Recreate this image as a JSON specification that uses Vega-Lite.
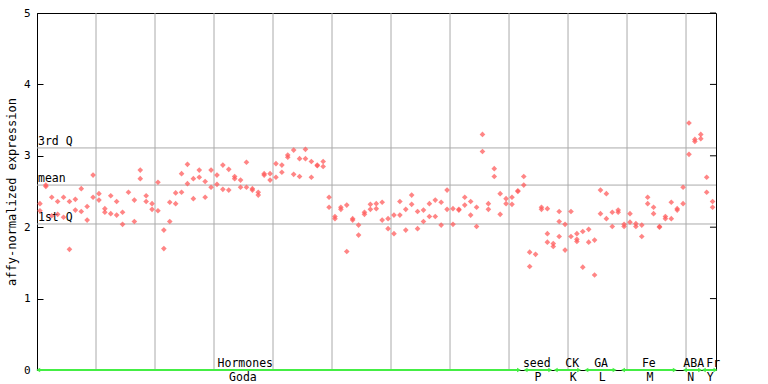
{
  "$schema": "https://vega.github.io/schema/vega-lite/v6.json",
  "width": 679,
  "height": 357,
  "autosize": {"type": "none"},
  "padding": {"left": 37, "top": 13, "right": 52, "bottom": 14},
  "background": "white",
  "config": {
    "view": {"stroke": "black", "strokeWidth": 1},
    "font": "DejaVu Sans Mono",
    "axis": {
      "labelFont": "DejaVu Sans Mono",
      "titleFont": "DejaVu Sans Mono",
      "labelColor": "black",
      "titleColor": "black",
      "domainColor": "black",
      "tickColor": "black",
      "titleFontWeight": "normal",
      "labelFontSize": 11,
      "titleFontSize": 12
    }
  },
  "datasets": {
    "pts": [
      {"i":0,"v":2.33},{"i":0,"v":2.23},
      {"i":1,"v":2.59},{"i":1,"v":2.57},
      {"i":2,"v":2.42},{"i":2,"v":2.16},
      {"i":3,"v":2.36},{"i":3,"v":2.18},
      {"i":4,"v":2.42},{"i":4,"v":2.14},
      {"i":5,"v":2.36},{"i":5,"v":1.69},
      {"i":6,"v":2.39},{"i":6,"v":2.24},
      {"i":7,"v":2.54},{"i":7,"v":2.22},
      {"i":8,"v":2.29},{"i":8,"v":2.10},
      {"i":9,"v":2.73},{"i":9,"v":2.42},
      {"i":10,"v":2.47},{"i":10,"v":2.38},
      {"i":11,"v":2.26},{"i":11,"v":2.21},
      {"i":12,"v":2.44},{"i":12,"v":2.19},
      {"i":13,"v":2.36},{"i":13,"v":2.17},
      {"i":14,"v":2.21},{"i":14,"v":2.04},
      {"i":15,"v":2.49},
      {"i":16,"v":2.38},{"i":16,"v":2.08},
      {"i":17,"v":2.80},{"i":17,"v":2.68},
      {"i":18,"v":2.44},{"i":18,"v":2.36},
      {"i":19,"v":2.33},{"i":19,"v":2.25},
      {"i":20,"v":2.63},{"i":20,"v":2.23},
      {"i":21,"v":1.96},{"i":21,"v":1.70},
      {"i":22,"v":2.35},{"i":22,"v":2.08},
      {"i":23,"v":2.48},{"i":23,"v":2.33},
      {"i":24,"v":2.75},{"i":24,"v":2.49},
      {"i":25,"v":2.88},{"i":25,"v":2.61},
      {"i":26,"v":2.68},{"i":26,"v":2.40},
      {"i":27,"v":2.80},{"i":27,"v":2.70},
      {"i":28,"v":2.64},{"i":28,"v":2.42},
      {"i":29,"v":2.80},{"i":29,"v":2.56},
      {"i":30,"v":2.73},{"i":30,"v":2.60},
      {"i":31,"v":2.87},{"i":31,"v":2.53},
      {"i":32,"v":2.81},{"i":32,"v":2.52},
      {"i":33,"v":2.71},{"i":33,"v":2.68},
      {"i":34,"v":2.66},{"i":34,"v":2.56},
      {"i":35,"v":2.91},{"i":35,"v":2.56},
      {"i":36,"v":2.54},{"i":36,"v":2.52},
      {"i":37,"v":2.49},{"i":37,"v":2.45},
      {"i":38,"v":2.75},{"i":38,"v":2.73},
      {"i":39,"v":2.75},{"i":39,"v":2.66},
      {"i":40,"v":2.89},{"i":40,"v":2.70},
      {"i":41,"v":2.87},{"i":41,"v":2.77},
      {"i":42,"v":3.01},{"i":42,"v":2.98},
      {"i":43,"v":3.08},{"i":43,"v":2.74},
      {"i":44,"v":2.96},{"i":44,"v":2.71},
      {"i":45,"v":3.09},{"i":45,"v":2.96},
      {"i":46,"v":2.92},{"i":46,"v":2.70},
      {"i":47,"v":2.87},{"i":47,"v":2.86},
      {"i":48,"v":2.92},{"i":48,"v":2.85},
      {"i":49,"v":2.42},{"i":49,"v":2.28},
      {"i":50,"v":2.15},{"i":50,"v":2.12},
      {"i":51,"v":2.28},{"i":51,"v":2.25},
      {"i":52,"v":2.31},{"i":52,"v":1.66},
      {"i":53,"v":2.12},{"i":53,"v":2.10},
      {"i":54,"v":2.03},{"i":54,"v":1.89},
      {"i":55,"v":2.21},{"i":55,"v":2.18},
      {"i":56,"v":2.32},{"i":56,"v":2.25},
      {"i":57,"v":2.33},{"i":57,"v":2.26},
      {"i":58,"v":2.35},{"i":58,"v":2.10},
      {"i":59,"v":2.12},{"i":59,"v":1.98},
      {"i":60,"v":2.17},{"i":60,"v":1.91},
      {"i":61,"v":2.36},{"i":61,"v":2.17},
      {"i":62,"v":2.25},{"i":62,"v":1.96},
      {"i":63,"v":2.45},{"i":63,"v":2.32},
      {"i":64,"v":2.22},{"i":64,"v":1.98},
      {"i":65,"v":2.24},{"i":65,"v":2.08},
      {"i":66,"v":2.33},{"i":66,"v":2.15},
      {"i":67,"v":2.38},{"i":67,"v":2.15},
      {"i":68,"v":2.35},{"i":68,"v":2.03},
      {"i":69,"v":2.52},{"i":69,"v":2.25},
      {"i":70,"v":2.26},{"i":70,"v":2.04},
      {"i":71,"v":2.25},{"i":71,"v":2.24},
      {"i":72,"v":2.42},{"i":72,"v":2.31},
      {"i":73,"v":2.36},{"i":73,"v":2.17},
      {"i":74,"v":2.28},{"i":74,"v":2.01},
      {"i":75,"v":3.30},{"i":75,"v":3.06},
      {"i":76,"v":2.33},{"i":76,"v":2.25},
      {"i":77,"v":2.82},{"i":77,"v":2.71},
      {"i":78,"v":2.47},{"i":78,"v":2.18},
      {"i":79,"v":2.40},{"i":79,"v":2.33},
      {"i":80,"v":2.42},{"i":80,"v":2.32},
      {"i":81,"v":2.51},{"i":81,"v":2.50},
      {"i":82,"v":2.71},{"i":82,"v":2.59},
      {"i":83,"v":1.65},{"i":83,"v":1.45},
      {"i":84,"v":1.62},
      {"i":85,"v":2.28},{"i":85,"v":2.25},
      {"i":86,"v":2.26},{"i":86,"v":1.91},{"i":86,"v":1.79},
      {"i":87,"v":1.77},{"i":87,"v":1.73},
      {"i":88,"v":2.22},{"i":88,"v":2.08},{"i":88,"v":1.87},
      {"i":89,"v":2.04},{"i":89,"v":1.68},
      {"i":90,"v":2.22},{"i":90,"v":1.87},
      {"i":91,"v":1.91},{"i":91,"v":1.83},{"i":91,"v":1.80},
      {"i":92,"v":1.94},{"i":92,"v":1.44},
      {"i":93,"v":1.97},{"i":93,"v":1.79},
      {"i":94,"v":1.82},{"i":94,"v":1.33},
      {"i":95,"v":2.52},{"i":95,"v":2.19},
      {"i":96,"v":2.47},{"i":96,"v":2.12},
      {"i":97,"v":2.21},{"i":97,"v":2.01},
      {"i":98,"v":2.24},{"i":98,"v":2.21},
      {"i":99,"v":2.04},{"i":99,"v":2.01},
      {"i":100,"v":2.19},{"i":100,"v":2.07},
      {"i":101,"v":2.05},{"i":101,"v":2.01},
      {"i":102,"v":2.03},{"i":102,"v":1.87},
      {"i":103,"v":2.42},{"i":103,"v":2.33},
      {"i":104,"v":2.28},{"i":104,"v":2.19},
      {"i":105,"v":2.01},{"i":105,"v":2.00},
      {"i":106,"v":2.15},{"i":106,"v":2.12},
      {"i":107,"v":2.35},{"i":107,"v":2.12},
      {"i":108,"v":2.26},{"i":108,"v":2.24},
      {"i":109,"v":2.56},{"i":109,"v":2.33},
      {"i":110,"v":3.46},{"i":110,"v":3.02},
      {"i":111,"v":3.23},{"i":111,"v":3.20},
      {"i":112,"v":3.30},{"i":112,"v":3.24},
      {"i":113,"v":2.70},{"i":113,"v":2.49},
      {"i":114,"v":2.36},{"i":114,"v":2.28}
    ],
    "refs": [
      {"v": 3.11, "label": "3rd Q"},
      {"v": 2.59, "label": "mean"},
      {"v": 2.045, "label": "1st Q"}
    ],
    "yticks": [{"v": 0}, {"v": 1}, {"v": 2}, {"v": 3}, {"v": 4}, {"v": 5}],
    "grid": [
      {"i": 9.5}, {"i": 19.5}, {"i": 29.5}, {"i": 39.5}, {"i": 49.5}, {"i": 59.5},
      {"i": 69.5}, {"i": 79.5}, {"i": 89.5}, {"i": 99.5}, {"i": 109.5}
    ],
    "segs": [
      {"a": -0.3, "b": 81.2},
      {"a": 82.3, "b": 86.5},
      {"a": 87.4, "b": 91.4},
      {"a": 92.6, "b": 97.4},
      {"a": 98.8, "b": 107.6},
      {"a": 109.3, "b": 111.9},
      {"a": 112.5, "b": 114.5}
    ],
    "above": [
      {"i": 34.8, "t": "Hormones"},
      {"i": 84.2, "t": "seed"},
      {"i": 90.2, "t": "CK"},
      {"i": 95.1, "t": "GA"},
      {"i": 103.2, "t": "Fe"},
      {"i": 110.8, "t": "ABA"},
      {"i": 114.1, "t": "Fr"}
    ],
    "below": [
      {"i": 34.4, "t": "Goda"},
      {"i": 84.4, "t": "P"},
      {"i": 90.4, "t": "K"},
      {"i": 95.3, "t": "L"},
      {"i": 103.4, "t": "M"},
      {"i": 110.3, "t": "N"},
      {"i": 113.6, "t": "Y"}
    ]
  },
  "encoding": {
    "x": {"type": "quantitative", "scale": {"domain": [-0.5, 114.58], "nice": false, "zero": false}, "axis": null},
    "y": {"type": "quantitative", "scale": {"domain": [0, 5], "nice": false, "zero": true},
      "axis": {"orient": "left", "values": [0, 1, 2, 3, 4, 5], "grid": false, "tickSize": -6, "labelPadding": 13, "title": "affy-normalized expression", "titlePadding": 5}}
  },
  "layer": [
    {
      "data": {"name": "grid"},
      "mark": {"type": "rule", "color": "#aaaaaa", "strokeWidth": 1},
      "encoding": {
        "x": {"field": "i", "type": "quantitative"}
      }
    },
    {
      "data": {"name": "refs"},
      "mark": {"type": "rule", "color": "#aaaaaa", "strokeWidth": 1},
      "encoding": {
        "y": {"field": "v", "type": "quantitative"}
      }
    },
    {
      "data": {"name": "refs"},
      "mark": {"type": "text", "align": "left", "baseline": "bottom", "dx": 1, "dy": -1, "fontSize": 11.5, "font": "DejaVu Sans Mono", "color": "black"},
      "encoding": {
        "x": {"datum": -0.5, "type": "quantitative"},
        "y": {"field": "v", "type": "quantitative"},
        "text": {"field": "label"}
      }
    },
    {
      "data": {"name": "pts"},
      "mark": {"type": "point", "shape": "diamond", "filled": true, "size": 32, "color": "#ff5c5c", "opacity": 0.75},
      "encoding": {
        "x": {"field": "i", "type": "quantitative"},
        "y": {"field": "v", "type": "quantitative"}
      }
    },
    {
      "data": {"name": "yticks"},
      "mark": {"type": "rule", "color": "black", "strokeWidth": 1},
      "encoding": {
        "x": {"datum": 113.56, "type": "quantitative"},
        "x2": {"datum": 114.58},
        "y": {"field": "v", "type": "quantitative"}
      }
    },
    {
      "data": {"name": "segs"},
      "mark": {"type": "rule", "color": "#44ee44", "strokeWidth": 2},
      "encoding": {
        "x": {"field": "a", "type": "quantitative"},
        "x2": {"field": "b"},
        "y": {"datum": 0, "type": "quantitative"}
      }
    },
    {
      "data": {"name": "segs"},
      "mark": {"type": "point", "shape": "triangle-left", "filled": true, "size": 22, "color": "#44ee44", "opacity": 1},
      "encoding": {
        "x": {"field": "a", "type": "quantitative"},
        "y": {"datum": 0, "type": "quantitative"}
      }
    },
    {
      "data": {"name": "segs"},
      "mark": {"type": "point", "shape": "triangle-right", "filled": true, "size": 22, "color": "#44ee44", "opacity": 1},
      "encoding": {
        "x": {"field": "b", "type": "quantitative"},
        "y": {"datum": 0, "type": "quantitative"}
      }
    },
    {
      "data": {"name": "above"},
      "mark": {"type": "text", "align": "center", "baseline": "alphabetic", "dy": -3, "fontSize": 11.5, "font": "DejaVu Sans Mono", "color": "black"},
      "encoding": {
        "x": {"field": "i", "type": "quantitative"},
        "y": {"datum": 0, "type": "quantitative"},
        "text": {"field": "t"}
      }
    },
    {
      "data": {"name": "below"},
      "mark": {"type": "text", "align": "center", "baseline": "top", "dy": 2, "fontSize": 11.5, "font": "DejaVu Sans Mono", "color": "black"},
      "encoding": {
        "x": {"field": "i", "type": "quantitative"},
        "y": {"datum": 0, "type": "quantitative"},
        "text": {"field": "t"}
      }
    }
  ]
}
